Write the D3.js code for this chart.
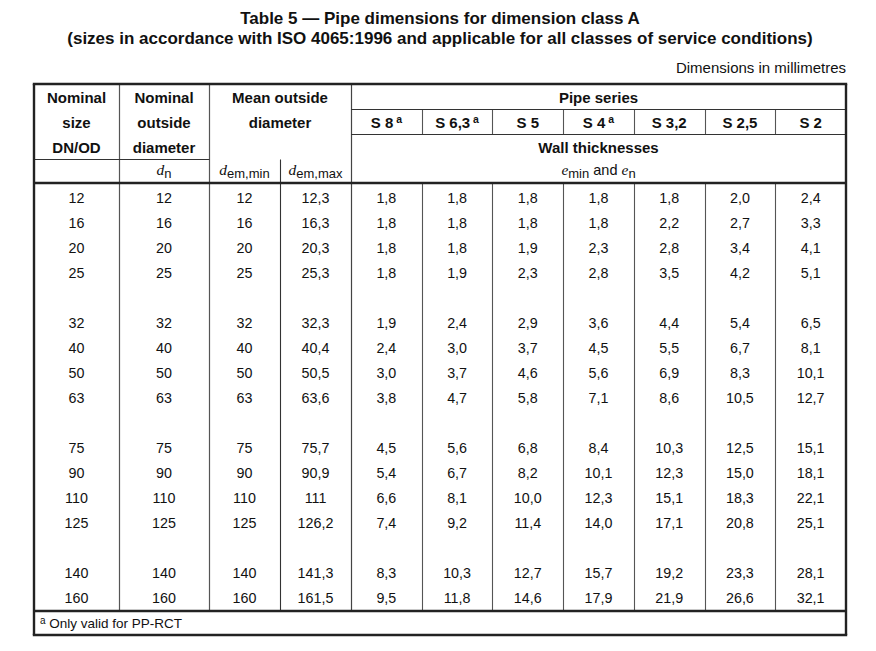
<!DOCTYPE html>
<html>
<head>
<meta charset="utf-8">
<script src="https://cdn.jsdelivr.net/npm/d3@7"></script>
<style>
  html, body { margin: 0; padding: 0; background: #fff; }
  svg text { font-family: "Liberation Sans", Arial, sans-serif; fill: #111; }
</style>
</head>
<body>
<svg id="chart" width="876" height="651"></svg>
<script>
// ---- Data ----
const titleLines = [
  "Table 5 \u2014 Pipe dimensions for dimension class A",
  "(sizes in accordance with ISO 4065:1996 and applicable for all classes of service conditions)"
];
const unitsNote = "Dimensions in millimetres";
const footnote = "Only valid for PP-RCT";

const nominalSize = ["12","16","20","25","32","40","50","63","75","90","110","125","140","160"];
const nominalOD   = ["12","16","20","25","32","40","50","63","75","90","110","125","140","160"];
const demMin      = ["12","16","20","25","32","40","50","63","75","90","110","125","140","160"];
const demMax      = ["12,3","16,3","20,3","25,3","32,3","40,4","50,5","63,6","75,7","90,9","111","126,2","141,3","161,5"];

const seriesNames = ["S 8","S 6,3","S 5","S 4","S 3,2","S 2,5","S 2"];
const seriesFootnoted = [true, true, false, true, false, false, false];

const sS8   = ["1,8","1,8","1,8","1,8","1,9","2,4","3,0","3,8","4,5","5,4","6,6","7,4","8,3","9,5"];
const sS6_3 = ["1,8","1,8","1,8","1,9","2,4","3,0","3,7","4,7","5,6","6,7","8,1","9,2","10,3","11,8"];
const sS5   = ["1,8","1,8","1,9","2,3","2,9","3,7","4,6","5,8","6,8","8,2","10,0","11,4","12,7","14,6"];
const sS4   = ["1,8","1,8","2,3","2,8","3,6","4,5","5,6","7,1","8,4","10,1","12,3","14,0","15,7","17,9"];
const sS3_2 = ["1,8","2,2","2,8","3,5","4,4","5,5","6,9","8,6","10,3","12,3","15,1","17,1","19,2","21,9"];
const sS2_5 = ["2,0","2,7","3,4","4,2","5,4","6,7","8,3","10,5","12,5","15,0","18,3","20,8","23,3","26,6"];
const sS2   = ["2,4","3,3","4,1","5,1","6,5","8,1","10,1","12,7","15,1","18,1","22,1","25,1","28,1","32,1"];
const seriesValues = [sS8, sS6_3, sS5, sS4, sS3_2, sS2_5, sS2];

// ---- Layout ----
const svg = d3.select("#chart");
const L = 34, R = 846;
const colEdges = [34, 119, 209, 280, 351]; // fixed columns
const yTop = 84, yPS = 109.5, ySer = 134.5, yDN = 159.5, yHead = 183, yData = 611, yBot = 635;

const xSeries = d3.scaleBand().domain(seriesNames).range([351, R]);
const rowSlot = i => i + Math.floor(i / 4);      // blank row after every 4
const yRow = d3.scaleLinear().domain([0, 16]).range([197.5, 597.5]);

const fs = 14;     // data font
const hfs = 15;    // bold header font

// Title
svg.selectAll("text.title").data(titleLines).join("text")
  .attr("class", "title")
  .attr("x", 440).attr("y", (d, i) => 24 + i * 20)
  .attr("text-anchor", "middle")
  .attr("font-weight", "bold").attr("font-size", 17)
  .text(d => d);

svg.append("text").attr("x", R).attr("y", 72.5).attr("text-anchor", "end")
  .attr("font-size", 15).text(unitsNote);

// Lines
function hline(y, x1, x2, w, c) {
  svg.append("line").attr("x1", x1).attr("x2", x2).attr("y1", y).attr("y2", y)
    .attr("stroke", c).attr("stroke-width", w);
}
function vline(x, y1, y2, w, c) {
  svg.append("line").attr("x1", x).attr("x2", x).attr("y1", y1).attr("y2", y2)
    .attr("stroke", c).attr("stroke-width", w);
}
const dark = "#222";
// inner verticals
vline(119.5, yTop, yData, 1.2, "#555");
vline(209.5, yTop, yData, 1.2, "#555");
vline(280.5, yDN, yData, 1.1, "#333");
vline(351.5, yTop, yData, 1.2, "#444");
seriesNames.slice(1).forEach(s => {
  const x = Math.round(xSeries(s)) + 0.5;
  vline(x, yPS, ySer, 1.1, "#555");
  vline(x, yHead, yData, 1.1, "#555");
});
// inner horizontals
hline(yPS, 351, R, 1.1, "#333");
hline(ySer, 351, R, 1.1, "#333");
hline(yDN, L, 209.5, 1.1, "#333");
hline(yHead, L, R, 2.4, dark);
hline(yData, L, R, 2.4, dark);
// outer border
hline(yTop, L - 1.2, R + 1.2, 2.4, dark);
hline(yBot, L - 1.2, R + 1.2, 2.4, dark);
vline(L, yTop, yBot, 2.4, dark);
vline(R, yTop, yBot, 2.4, dark);

// Header text
function htext(x, y, t) {
  return svg.append("text").attr("x", x).attr("y", y + 5.5).attr("text-anchor", "middle")
    .attr("font-size", hfs).attr("font-weight", "bold").text(t);
}
const c1 = (colEdges[0] + colEdges[1]) / 2, c2 = (colEdges[1] + colEdges[2]) / 2;
const c3 = (colEdges[2] + colEdges[3]) / 2, c4 = (colEdges[3] + colEdges[4]) / 2;
const c34 = (colEdges[2] + colEdges[4]) / 2, cPS = (351 + R) / 2;
["Nominal", "size", "DN/OD"].forEach((t, i) => htext(c1, 97 + 25 * i, t));
["Nominal", "outside", "diameter"].forEach((t, i) => htext(c2, 97 + 25 * i, t));
["Mean outside", "diameter"].forEach((t, i) => htext(c34, 97 + 25 * i, t));
htext(cPS, 97, "Pipe series");
htext(cPS, 147, "Wall thicknesses");

seriesNames.forEach((s, i) => {
  const t = svg.append("text").attr("x", xSeries(s) + xSeries.bandwidth() / 2).attr("y", 127.5)
    .attr("text-anchor", "middle").attr("font-size", hfs).attr("font-weight", "bold");
  t.append("tspan").text(s);
  if (seriesFootnoted[i]) {
    t.append("tspan").attr("font-size", 10.5).attr("dy", -4.5).text(" a");
  }
});

// symbol labels (italic serif letter + sans subscript)
function sym(x, y, letter, sub, extra) {
  const t = svg.append("text").attr("x", x).attr("y", y + 5).attr("text-anchor", "middle").attr("font-size", fs);
  t.append("tspan").attr("font-family", "'Liberation Serif', 'Times New Roman', serif")
    .attr("font-style", "italic").attr("font-size", 15.5).text(letter);
  t.append("tspan").attr("font-size", 13).attr("dy", 3).text(sub);
  if (extra) {
    t.append("tspan").attr("dy", -3).attr("font-size", 14.5).text(" and ");
    t.append("tspan").attr("font-family", "'Liberation Serif', 'Times New Roman', serif")
      .attr("font-style", "italic").attr("font-size", 15.5).text(extra[0]);
    t.append("tspan").attr("font-size", 13).attr("dy", 3).text(extra[1]);
  }
  return t;
}
sym(c2, 170, "d", "n");
sym(c3, 170, "d", "em,min");
sym(c4, 170, "d", "em,max");
sym(cPS, 170, "e", "min", ["e", "n"]);

// Data cells
const cols = [
  {x: c1, vals: nominalSize},
  {x: c2, vals: nominalOD},
  {x: c3, vals: demMin},
  {x: c4, vals: demMax}
];
seriesNames.forEach((s, j) => cols.push({x: xSeries(s) + xSeries.bandwidth() / 2, vals: seriesValues[j]}));

cols.forEach(col => {
  svg.append("g").selectAll("text").data(col.vals).join("text")
    .attr("x", col.x)
    .attr("y", (d, i) => yRow(rowSlot(i)) + 5.2)
    .attr("text-anchor", "middle")
    .attr("font-size", 14.3)
    .text(d => d);
});

// Footnote
const ft = svg.append("text").attr("x", 40).attr("y", 628).attr("font-size", 13.5);
ft.append("tspan").attr("font-size", 10).attr("dy", -4).text("a");
ft.append("tspan").attr("dy", 4).text(" " + footnote);
</script>
</body>
</html>
